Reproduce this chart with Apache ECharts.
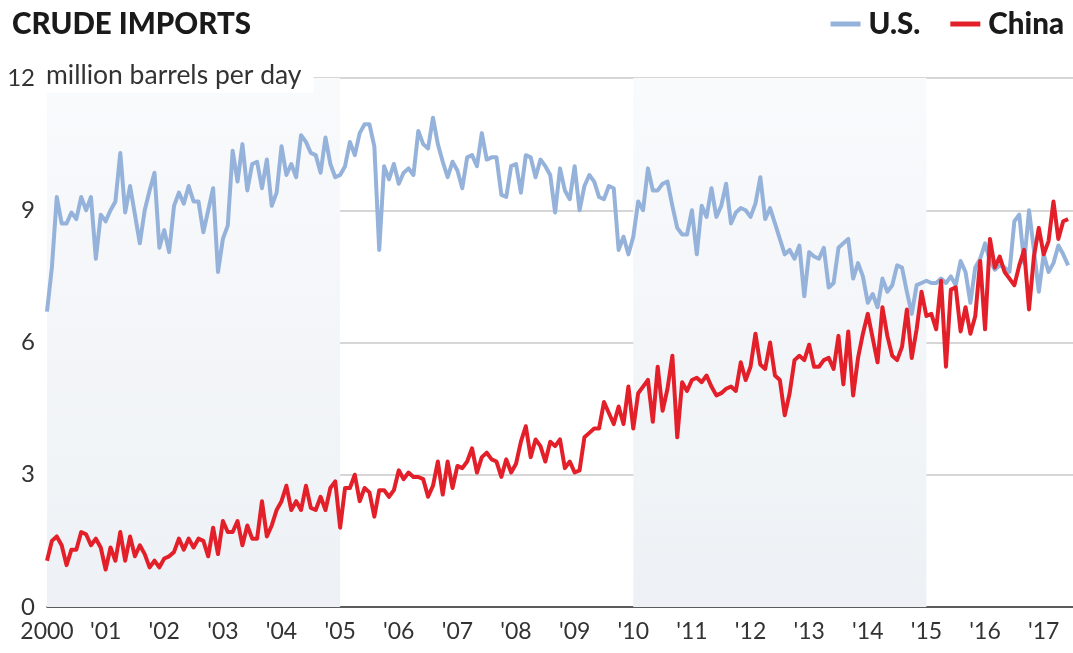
<!DOCTYPE html>
<html>
<head>
<meta charset="utf-8">
<script src="https://cdn.jsdelivr.net/npm/echarts@6/dist/echarts.min.js"></script>
<style>
html,body{margin:0;padding:0;background:#fff;}
#chart{width:1073px;height:653px;}
</style>
</head>
<body>
<div id="chart"></div>
<script>
// Monthly crude imports, million barrels per day, Jan 2000 – Jun 2017
const startYear = 2000;
const usImports = [
  6.7, 7.7, 9.3, 8.7, 8.7, 8.95, 8.8, 9.3, 9.0, 9.3, 7.9, 8.9,
  8.75, 9.0, 9.2, 10.3, 8.95, 9.55, 8.9, 8.25, 9.0, 9.45, 9.85, 8.15,
  8.55, 8.05, 9.1, 9.4, 9.15, 9.55, 9.2, 9.2, 8.5, 9.0, 9.5, 7.6,
  8.35, 8.65, 10.35, 9.65, 10.5, 9.45, 10.05, 10.1, 9.5, 10.15, 9.1, 9.4,
  10.45, 9.8, 10.05, 9.75, 10.7, 10.55, 10.3, 10.25, 9.85, 10.65, 10.05, 9.75,
  9.8, 10.0, 10.55, 10.25, 10.75, 10.95, 10.95, 10.45, 8.1, 10.0, 9.7, 10.05,
  9.6, 9.85, 9.95, 9.8, 10.8, 10.5, 10.4, 11.1, 10.5, 10.1, 9.75, 10.1,
  9.9, 9.5, 10.2, 10.25, 10.0, 10.75, 10.15, 10.2, 10.2, 9.35, 9.3, 10.0,
  10.05, 9.4, 10.25, 10.2, 9.75, 10.15, 10.0, 9.8, 8.95, 9.95, 9.45, 9.25,
  10.0, 9.0, 9.55, 9.8, 9.65, 9.3, 9.25, 9.55, 9.5, 8.1, 8.4, 8.0,
  8.4, 9.2, 9.0, 9.95, 9.45, 9.45, 9.6, 9.65, 9.1, 8.6, 8.45, 8.45,
  9.0, 8.0, 9.1, 8.85, 9.5, 8.85, 9.1, 9.6, 8.7, 8.95, 9.05, 9.0,
  8.85, 9.15, 9.75, 8.8, 9.05, 8.7, 8.35, 8.0, 8.1, 7.9, 8.2, 7.05,
  8.05, 7.95, 7.9, 8.15, 7.25, 7.35, 8.15, 8.25, 8.35, 7.45, 7.8, 7.5,
  6.9, 7.1, 6.8, 7.45, 7.15, 7.3, 7.75, 7.7, 7.15, 6.65, 7.3, 7.35,
  7.4, 7.35, 7.35, 7.45, 7.35, 7.5, 7.3, 7.85, 7.6, 6.9, 7.7, 7.9,
  8.25, 7.85, 7.65, 7.75, 7.7, 7.6, 8.75, 8.9, 7.8, 9.0, 8.1, 7.15,
  8.0, 7.6, 7.8, 8.2, 8.0, 7.75
];
const chinaImports = [
  1.05, 1.5, 1.6, 1.4, 0.95, 1.3, 1.3, 1.7, 1.65, 1.4, 1.55, 1.35,
  0.85, 1.35, 1.05, 1.7, 1.05, 1.6, 1.15, 1.4, 1.2, 0.9, 1.05, 0.9,
  1.1, 1.15, 1.25, 1.55, 1.3, 1.55, 1.35, 1.55, 1.5, 1.15, 1.8, 1.2,
  1.95, 1.7, 1.7, 1.95, 1.4, 1.85, 1.55, 1.55, 2.4, 1.6, 1.85, 2.2,
  2.4, 2.75, 2.2, 2.4, 2.2, 2.75, 2.25, 2.2, 2.5, 2.2, 2.7, 2.85,
  1.8, 2.7, 2.7, 3.0, 2.4, 2.7, 2.6, 2.05, 2.65, 2.65, 2.5, 2.65,
  3.1, 2.9, 3.05, 2.95, 2.95, 2.9, 2.5, 2.75, 3.3, 2.55, 3.3, 2.7,
  3.2, 3.15, 3.3, 3.6, 3.05, 3.4, 3.5, 3.35, 3.3, 2.95, 3.35, 3.05,
  3.25, 3.75, 4.1, 3.4, 3.8, 3.65, 3.3, 3.75, 3.65, 3.8, 3.15, 3.3,
  3.05, 3.1, 3.85, 3.95, 4.05, 4.05, 4.65, 4.4, 4.15, 4.55, 4.15, 5.0,
  4.05, 4.85, 5.0, 5.15, 4.2, 5.45, 4.45, 4.95, 5.7, 3.85, 5.1, 4.9,
  5.15, 5.2, 5.1, 5.25, 5.0, 4.8, 4.85, 4.95, 5.0, 4.9, 5.55, 5.15,
  5.45, 6.2, 5.5, 5.4, 6.0, 5.25, 5.15, 4.35, 4.85, 5.6, 5.7, 5.6,
  5.95, 5.45, 5.45, 5.6, 5.65, 5.4, 6.15, 5.05, 6.25, 4.8, 5.65, 6.2,
  6.65, 6.1, 5.55, 6.8, 6.15, 5.7, 5.6, 5.9, 6.75, 5.65, 6.3, 7.15,
  6.6, 6.65, 6.3, 7.4, 5.45, 7.2, 7.25, 6.25, 6.8, 6.2, 6.6, 7.85,
  6.3, 8.35, 7.7, 7.95, 7.6, 7.45, 7.3, 7.75, 8.1, 6.75, 7.95, 8.6,
  8.0, 8.3, 9.2, 8.35, 8.75, 8.8
];
const yTicks = [0, 3, 6, 9, 12];
const shadedPeriods = [[2000, 2005], [2010, 2015]];
const seriesNames = ['U.S.', 'China'];
const titleText = 'CRUDE IMPORTS';
const unitText = 'million barrels per day';

const FONT = 'Lato, "Noto Sans", sans-serif';
const toPairs = arr => arr.map((v, i) => [i, v]);
const monthIdx = y => (y - startYear) * 12;

const chart = echarts.init(document.getElementById('chart'), null, {renderer: 'canvas'});
chart.setOption({
  animation: false,
  backgroundColor: '#fff',
  textStyle: {fontFamily: FONT},
  title: {
    text: titleText, left: 7, top: 4,
    textStyle: {fontFamily: FONT, fontSize: 29.5, fontWeight: 900, color: '#1a1a1a'}
  },
  legend: {
    right: 4, top: 4,
    icon: 'rect', itemWidth: 30, itemHeight: 5, itemGap: 30,
    textStyle: {fontFamily: FONT, fontSize: 29.5, fontWeight: 900, color: '#1a1a1a', padding: [0, 0, 0, 3]},
    data: seriesNames
  },
  grid: {left: 47, right: 0, top: 78, bottom: 46, containLabel: false},
  xAxis: {
    type: 'value', min: 0, max: 210, interval: 12,
    axisLine: {show: true, lineStyle: {color: '#333', width: 1.5}},
    axisTick: {show: false},
    splitLine: {show: false},
    axisLabel: {
      showMaxLabel: false, margin: 13, fontSize: 23, color: '#333', fontFamily: FONT,
      formatter: v => v === 0 ? String(startYear) : "'" + String((startYear + v / 12) % 100).padStart(2, '0')
    }
  },
  yAxis: {
    type: 'value', min: yTicks[0], max: yTicks[yTicks.length - 1], interval: 3,
    axisLine: {show: false}, axisTick: {show: false},
    splitLine: {lineStyle: {color: '#c8c8c8', width: 1.5}},
    axisLabel: {margin: 12, fontSize: 24, color: '#333', fontFamily: FONT}
  },
  graphic: [{
    type: 'text', left: 40, top: 60, z: 100,
    style: {
      text: unitText, fill: '#333', font: '26.5px ' + FONT,
      backgroundColor: '#fff', padding: [2, 12, 4, 6]
    }
  }],
  series: [
    {
      name: seriesNames[0], type: 'line', data: toPairs(usImports),
      showSymbol: false, symbol: 'none',
      lineStyle: {color: '#95b2da', width: 4, join: 'round'},
      itemStyle: {color: '#95b2da'},
      z: 3,
      markArea: {
        silent: true,
        itemStyle: {
          color: new echarts.graphic.LinearGradient(0, 0, 0, 1, [
            {offset: 0, color: '#f9fafc'}, {offset: 1, color: '#edf1f5'}
          ])
        },
        data: shadedPeriods.map(p => [{xAxis: monthIdx(p[0])}, {xAxis: monthIdx(p[1])}])
      }
    },
    {
      name: seriesNames[1], type: 'line', data: toPairs(chinaImports),
      showSymbol: false, symbol: 'none',
      lineStyle: {color: '#e3202a', width: 4, join: 'round'},
      itemStyle: {color: '#e3202a'},
      z: 4
    }
  ]
});
</script>
</body>
</html>
